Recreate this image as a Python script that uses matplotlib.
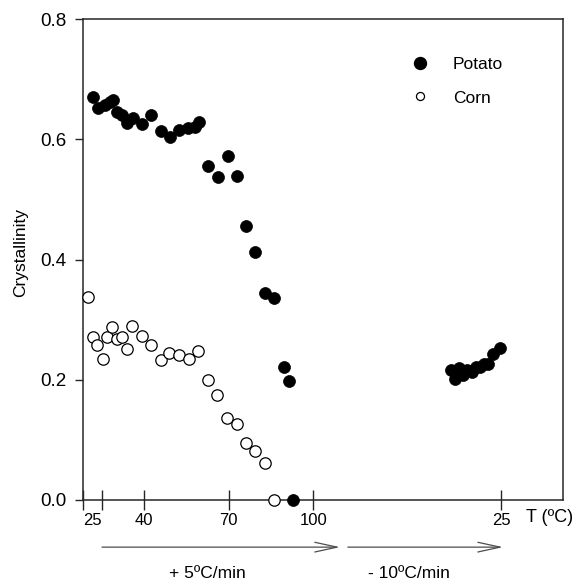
import numpy as np
import matplotlib.pyplot as plt
from matplotlib.lines import Line2D

plt.rcParams['font.family'] = ['Liberation Sans', 'DejaVu Sans']

# heating scan (+5 C/min), temperatures in C
potato_heat_T = [21.9, 23.7, 26.1, 27.8, 29.0, 30.2, 32.0, 33.8, 35.9, 39.1, 42.4, 45.8, 49.1, 52.4,
                 55.6, 58.0, 59.5, 62.7, 66.2, 69.6, 73.0, 76.1, 79.5, 82.8, 86.1, 89.5, 91.3, 92.8]
potato_heat_c = [0.671, 0.652, 0.657, 0.662, 0.665, 0.646, 0.640, 0.627, 0.635, 0.625, 0.640, 0.614,
                 0.604, 0.615, 0.618, 0.620, 0.629, 0.556, 0.538, 0.572, 0.539, 0.456, 0.412, 0.345,
                 0.336, 0.222, 0.198, 0.0]

corn_heat_T = [20.1, 21.7, 23.3, 25.2, 26.9, 28.7, 30.2, 32.0, 33.8, 35.5, 39.1, 42.3, 45.8, 48.9,
               52.4, 55.9, 59.1, 62.7, 66.0, 69.4, 72.8, 76.0, 79.3, 82.8, 86.0]
corn_heat_c = [0.338, 0.271, 0.258, 0.234, 0.271, 0.287, 0.267, 0.271, 0.251, 0.289, 0.273, 0.258,
               0.233, 0.244, 0.241, 0.234, 0.248, 0.200, 0.175, 0.136, 0.126, 0.094, 0.082, 0.061, 0.0]

# cooling scan (-10 C/min)
potato_cool_T = [45.1, 43.4, 41.6, 40.0, 38.4, 36.7, 35.0, 33.4, 31.8, 30.1, 28.1, 25.4]
potato_cool_c = [0.217, 0.202, 0.219, 0.208, 0.216, 0.213, 0.222, 0.221, 0.227, 0.227, 0.243, 0.252]

tick_temps = [25, 40, 70, 100]
tick_cool = [25]

# cooling segment is compressed on the axis
K_COOL = 0.889


def pos_heat(T):
    return np.asarray(T, dtype=float)


def pos_cool(T):
    return 100 + (100 - np.asarray(T, dtype=float)) * K_COOL


xmin, xmax = 18.26, 188.7
ink = '0.15'

fig = plt.figure(figsize=(5.74, 5.82), dpi=100)
ax = fig.add_axes([83/574, 82/582, 480/574, 481/582])

ax.plot(pos_heat(potato_heat_T), potato_heat_c, 'o', ms=8.6, mfc='black', mec='black',
        mew=0.5, clip_on=False, zorder=4)
ax.plot(pos_cool(potato_cool_T), potato_cool_c, 'o', ms=8.6, mfc='black', mec='black',
        mew=0.5, clip_on=False, zorder=4)
ax.plot(pos_heat(corn_heat_T), corn_heat_c, 'o', ms=8.2, mfc='white', mec='black',
        mew=0.9, clip_on=False, zorder=4)

ax.set_xlim(xmin, xmax)
ax.set_ylim(0, 0.8)

xt = [xmin] + list(pos_heat(tick_temps)) + list(pos_cool(tick_cool))
ax.set_xticks(xt)
ax.set_xticklabels([''] + [str(t) for t in tick_temps] + [str(t) for t in tick_cool])
ax.set_yticks([0, 0.2, 0.4, 0.6, 0.8])
ax.set_yticklabels(['0.0', '0.2', '0.4', '0.6', '0.8'])

ax.tick_params(axis='x', direction='inout', length=15, width=1.0, color=ink, labelsize=12, pad=2)
ax.tick_params(axis='y', direction='out', length=6, width=1.0, color=ink, labelsize=13.5, pad=6)
ax.get_xticklabels()[1].set_ha('right')

for s in ax.spines.values():
    s.set_color(ink)
    s.set_linewidth(1.1)

ax.set_ylabel('Crystallinity', fontsize=12.5)
ax.yaxis.set_label_coords(-0.115, 0.515)

ax.text(0.973, -0.036, 'T (ºC)', transform=ax.transAxes, ha='center', va='center', fontsize=13)

# scan direction arrows
xtr = ax.get_xaxis_transform()
arr = dict(arrowstyle='->,head_length=1.6,head_width=0.35', mutation_scale=10,
           lw=0.9, color='0.3', shrinkA=0, shrinkB=0)
ax.annotate('', xy=(109.5, -0.098), xytext=(25, -0.098), xycoords=xtr, textcoords=xtr,
            arrowprops=arr, annotation_clip=False)
ax.annotate('', xy=(167.4, -0.098), xytext=(112.3, -0.098), xycoords=xtr, textcoords=xtr,
            arrowprops=arr, annotation_clip=False)
ax.text(62.5, -0.152, '+ 5ºC/min', transform=xtr, ha='center', va='center', fontsize=12.5)
ax.text(134, -0.152, '- 10ºC/min', transform=xtr, ha='center', va='center', fontsize=12.5)

handles = [Line2D([], [], ls='', marker='o', ms=8.6, mfc='black', mec='black'),
           Line2D([], [], ls='', marker='o', ms=5.8, mfc='white', mec='black', mew=0.9)]
ax.legend(handles, ['Potato', 'Corn'], loc='upper left', bbox_to_anchor=(0.684, 0.922),
          frameon=False, fontsize=12.5, handlelength=1.0, handletextpad=1.4,
          labelspacing=1.08, borderpad=0, borderaxespad=0)

fig.savefig('out.png', dpi=100)
